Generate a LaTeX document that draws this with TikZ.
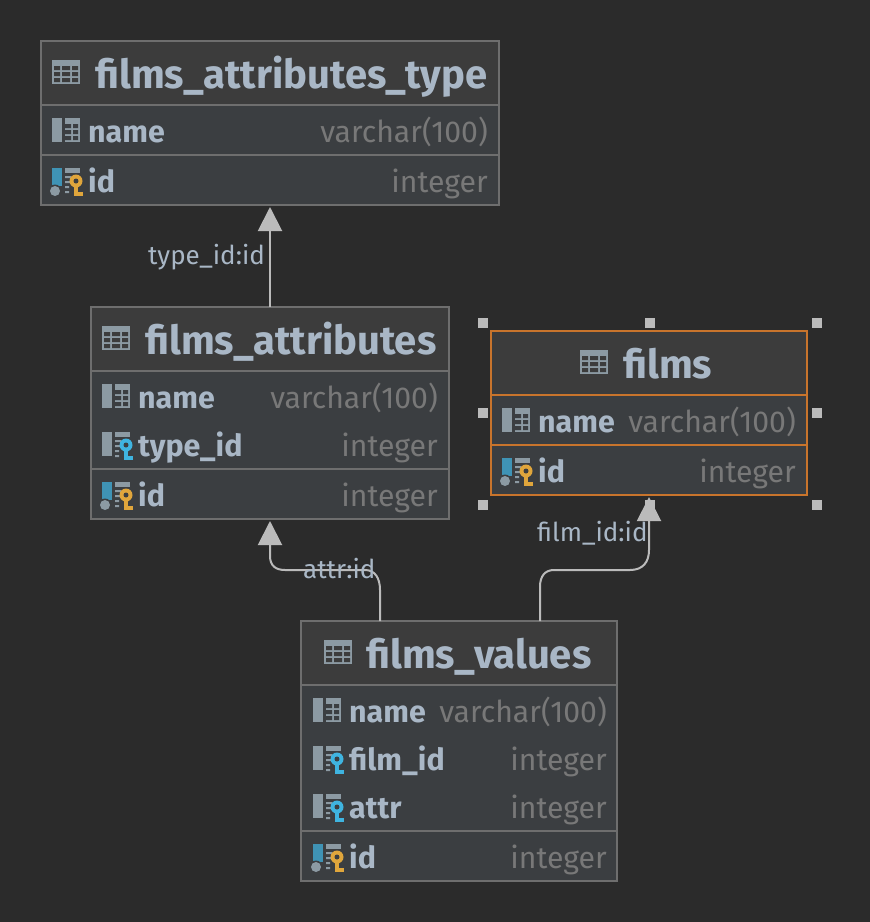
\documentclass[tikz,border=0pt]{standalone}
\usepackage{fontspec}
\setmainfont{Fira Sans}
\usetikzlibrary{arrows.meta,calc}
\definecolor{bgc}{HTML}{2B2B2B}
\definecolor{headc}{HTML}{3C3C3C}
\definecolor{rowc}{HTML}{3B3E41}
\definecolor{edgec}{HTML}{6E6E6E}
\definecolor{selc}{HTML}{C8742C}
\definecolor{txtc}{HTML}{A9B7C6}
\definecolor{typec}{HTML}{787878}
\definecolor{linkc}{HTML}{BBBBBB}
\definecolor{icong}{HTML}{8C9AA3}
\definecolor{iconb}{HTML}{3F93B5}
\definecolor{keyy}{HTML}{E0A63C}
\definecolor{keyb}{HTML}{3FB4E0}
\tikzset{
  x=1pt,y=-1pt,
  tablebox/.style={draw=#1,line width=1.5pt,fill=rowc,inner sep=0pt,outer sep=0pt},
  titletext/.style={inner sep=0pt,anchor=base west,text=txtc,xshift=-1pt,yshift=-1.5pt,font=\fontsize{40}{40}\selectfont\bfseries},
  nametext/.style={inner sep=0pt,anchor=base west,text=txtc,xshift=-1pt,yshift=-1pt,font=\fontsize{30.4}{30}\selectfont\bfseries},
  typetext/.style={inner sep=0pt,anchor=base east,text=typec,yshift=-1pt,font=\fontsize{30.2}{30}\selectfont},
  linktext/.style={inner sep=0pt,anchor=base west,text=txtc,font=\fontsize{26}{26}\selectfont},
  link/.style={draw=linkc,line width=2pt,-{Triangle[length=24pt,width=24pt,fill=linkc]},shorten >=2pt},
  handle/.style={fill=linkc,draw=none,minimum size=10pt,inner sep=0pt},
  ruleline/.style={draw=#1,line width=1.5pt},
  pics/tableicon/.style={code={
    \fill[icong] (0,0) rectangle (28,24);
    \fill[headc] (2,6) rectangle (8,10) (10,6) rectangle (18,10) (20,6) rectangle (26,10)
                 (2,12) rectangle (8,16) (10,12) rectangle (18,16) (20,12) rectangle (26,16)
                 (2,18) rectangle (8,22) (10,18) rectangle (18,22) (20,18) rectangle (26,22);
  }},
  pics/colicon/.style={code={
    \fill[icong] (0,0) rectangle (10,24);
    \fill[icong] (13,0) rectangle (28,24);
    \fill[rowc] (13,6) rectangle (19,10) (21,6) rectangle (26,10)
                (13,12) rectangle (19,16) (21,12) rectangle (26,16)
                (13,18) rectangle (19,22) (21,18) rectangle (26,22);
  }},
  pics/keysmall/.style={code={
    \fill[#1] (0,0) circle[radius=6.5pt];
    \fill[rowc] (0,0) circle[radius=2.5pt];
    \fill[#1] (-2.3,5) rectangle (2.3,15);
    \fill[#1] (0,10.5) rectangle (6.5,15);
  }},
  pics/fkicon/.style={code={
    \fill[icong] (0,0) rectangle (10,24);
    \fill[icong] (13,0) rectangle (28,5);
    \fill[icong] (13,8) rectangle (19,10) (13,13) rectangle (19,15) (13,18) rectangle (17,20) (13,23) rectangle (17,25);
    \pic at (24,13) {keysmall=keyb};
  }},
  pics/pkicon/.style={code={
    \fill[iconb] (0,0) rectangle (10,18);
    \fill[rowc] (3,23) circle[radius=6.5pt];
    \fill[icong] (3,23) circle[radius=5pt];
    \fill[icong] (13,0) rectangle (28,5);
    \fill[icong] (13,8) rectangle (19,10) (13,13) rectangle (19,15) (13,18) rectangle (17,20) (13,23) rectangle (17,25);
    \pic at (24,13) {keysmall=keyy};
  }},
}
\begin{document}
\begin{tikzpicture}
\useasboundingbox[fill=bgc] (0,0) rectangle (870,922);

% films_attributes_type
\node[tablebox=edgec,minimum width=458pt,minimum height=164pt] (ta) at (270,123) {};
\fill[headc] (42,42) rectangle (498,105);
\draw[ruleline=edgec] (41,105) -- (499,105) (41,155) -- (499,155);
\pic at (52,60) {tableicon};
\node[titletext] (tatitle) at (96,87) {films\_attributes\_type};
\pic at (52,118) {colicon};
\node[nametext] (taname) at (89,141) {name};
\node[typetext] (tanamet) at (488,141) {varchar(100)};
\pic at (52,168) {pkicon};
\node[nametext] (taid) at (89,191) {id};
\node[typetext] (taidt) at (488,191) {integer};

% films_attributes
\node[tablebox=edgec,minimum width=358pt,minimum height=212pt] (tb) at (270,413) {};
\fill[headc] (92,308) rectangle (448,371);
\draw[ruleline=edgec] (91,371) -- (449,371) (91,469) -- (449,469);
\pic at (102,326) {tableicon};
\node[titletext] (tbtitle) at (146,353) {films\_attributes};
\pic at (102,384) {colicon};
\node[nametext] (tbname) at (139,407) {name};
\node[typetext] (tbnamet) at (438,407) {varchar(100)};
\pic at (102,432) {fkicon};
\node[nametext] (tbtype) at (139,455) {type\_id};
\node[typetext] (tbtypet) at (438,455) {integer};
\pic at (102,482) {pkicon};
\node[nametext] (tbid) at (139,505) {id};
\node[typetext] (tbidt) at (438,505) {integer};

% films
\node[handle] (h1) at (483,323) {};
\node[handle] (h2) at (650,323) {};
\node[handle] (h3) at (817,323) {};
\node[handle] (h4) at (483,413) {};
\node[handle] (h5) at (817,413) {};
\node[handle] (h6) at (483,505) {};
\node[handle] (h7) at (650,505) {};
\node[handle] (h8) at (817,505) {};
\node[tablebox=selc,minimum width=316pt,minimum height=164pt] (tc) at (649,413) {};
\fill[headc] (492,332) rectangle (806,395);
\draw[ruleline=selc] (491,395) -- (807,395) (491,445) -- (807,445);
\pic at (580,350) {tableicon};
\node[titletext] (tctitle) at (624,377) {films};
\pic at (502,408) {colicon};
\node[nametext] (tcname) at (539,431) {name};
\node[typetext] (tcnamet) at (796,431) {varchar(100)};
\pic at (502,458) {pkicon};
\node[nametext] (tcid) at (539,481) {id};
\node[typetext] (tcidt) at (796,481) {integer};

% films_values
\node[tablebox=edgec,minimum width=316pt,minimum height=260pt] (td) at (459,751) {};
\fill[headc] (302,622) rectangle (616,685);
\draw[ruleline=edgec] (301,685) -- (617,685) (301,831) -- (617,831);
\pic at (324,640) {tableicon};
\node[titletext] (tdtitle) at (367,667) {films\_values};
\pic at (313,698) {colicon};
\node[nametext] (tdname) at (350,721) {name};
\node[typetext] (tdnamet) at (607,721) {varchar(100)};
\pic at (313,746) {fkicon};
\node[nametext] (tdfilm) at (350,769) {film\_id};
\node[typetext] (tdfilmt) at (607,769) {integer};
\pic at (313,794) {fkicon};
\node[nametext] (tdattr) at (350,817) {attr};
\node[typetext] (tdattrt) at (607,817) {integer};
\pic at (313,844) {pkicon};
\node[nametext] (tdid) at (350,867) {id};
\node[typetext] (tdidt) at (607,867) {integer};

% connectors
\coordinate (attrout) at (380,621);
\coordinate (filmout) at (540,621);
\draw[link] (tb.north) -- (ta.south);
\draw[link] (attrout) -- (380,590) .. controls (380,578) and (375,570) .. (365,570) -- (285,570) .. controls (276,570) and (270,566) .. (270,556) -- (tb.south);
\draw[link] (filmout) -- (540,587) .. controls (540,576) and (545,570) .. (554,570) -- (630,570) .. controls (643,570) and (649,562) .. (649,550) -- (tc.south);
\node[linktext] (l1) at (148,264) {type\_id:id};
\node[linktext] (l2) at (303,578) {attr:id};
\node[linktext] (l3) at (537,541) {film\_id:id};
\end{tikzpicture}
\end{document}
